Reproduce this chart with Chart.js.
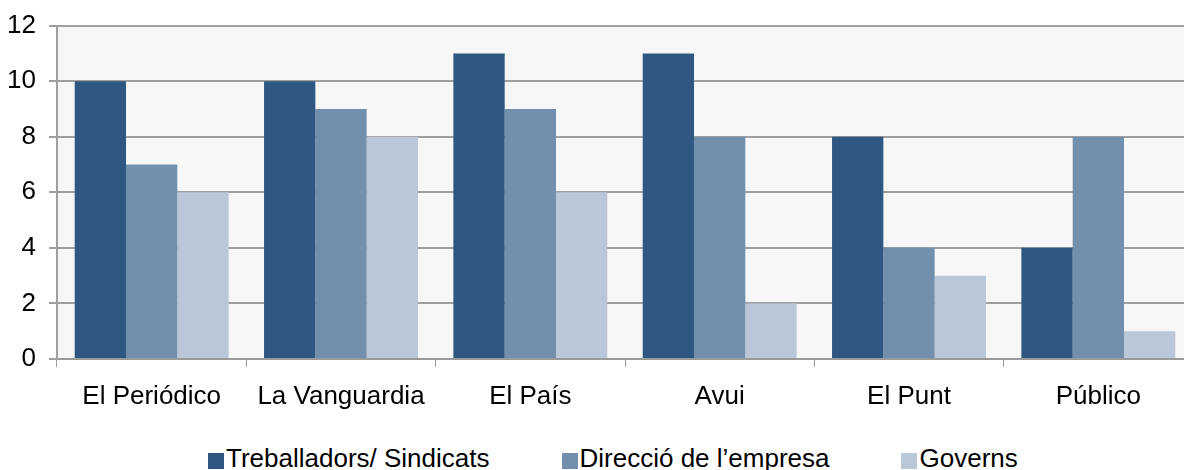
<!DOCTYPE html>
<html>
<head>
<meta charset="utf-8">
<script src="https://cdn.jsdelivr.net/npm/chart.js@4"></script>
<style>
  body { margin: 0; background: #fff; font-family: "Liberation Sans", Arial, sans-serif; }
  #wrap { position: relative; width: 1184px; height: 470px; overflow: hidden; }
  #box { position: absolute; left: 0; top: -3px; width: 1193px; height: 428px; }
  #legend { position: absolute; left: 208px; top: 443px; display: flex; align-items: center; font-size: 26px; color: #000; white-space: nowrap; }
  .item { display: flex; align-items: center; margin-right: 72px; }
  .sw { width: 16px; height: 16px; margin-right: 2px; margin-top: 5px; }
</style>
</head>
<body>
<div id="wrap">
  <div id="box"><canvas id="grafik"></canvas></div>
  <div id="legend"></div>
</div>
<script>
const kategori = ["El Periódico", "La Vanguardia", "El País", "Avui", "El Punt", "Público"];
const namaSeri = ["Treballadors/ Sindicats", "Direcció de l\u2019empresa", "Governs"];
const treballadors = [10, 10, 11, 11, 8, 4];
const direccio = [7, 9, 9, 8, 4, 8];
const governs = [6, 8, 6, 2, 3, 1];
const warna = ["#2e5782", "#728fae", "#b9c7d9"];

// latar abu-abu area plot
const latarPlot = {
    id: "latarPlot",
    beforeDraw(chart) {
        const a = chart.chartArea;
        const c = chart.ctx;
        c.save();
        c.fillStyle = "#f7f7f7";
        c.fillRect(a.left, a.top, a.right - a.left, a.bottom - a.top);
        c.restore();
    }
};

const semuaData = [treballadors, direccio, governs];

new Chart(document.getElementById("grafik").getContext("2d"), {
    type: "bar",
    data: {
        labels: kategori,
        datasets: semuaData.map((d, i) => ({
            label: namaSeri[i],
            data: d,
            backgroundColor: warna[i],
            borderWidth: 0,
            barPercentage: 1.0,
            categoryPercentage: 0.813
        }))
    },
    options: {
        responsive: true,
        maintainAspectRatio: false,
        animation: false,
        layout: { padding: { top: 24, right: 0, left: 0, bottom: 0 } },
        plugins: {
            legend: { display: false },
            tooltip: { enabled: false }
        },
        scales: {
            x: {
                offset: true,
                grid: { display: true, drawOnChartArea: false, offset: true, color: "#9a9a9a", tickLength: 8, lineWidth: 1 },
                border: { display: true, color: "#9a9a9a", width: 2 },
                ticks: { color: "#000", font: { family: "Liberation Sans", size: 26 }, padding: 14, maxRotation: 0 },
                afterFit(s) { s.height = 66; }
            },
            y: {
                min: 0,
                max: 12,
                grid: { color: "#a0a0a0", lineWidth: 2, tickLength: 8 },
                border: { display: true, color: "#a0a0a0", width: 2 },
                ticks: { stepSize: 2, color: "#000", font: { family: "Liberation Sans", size: 26 }, padding: 13 },
                afterFit(s) { s.width = 57; }
            }
        }
    },
    plugins: [latarPlot]
});

// legenda HTML
const legenda = document.getElementById("legend");
namaSeri.forEach((n, i) => {
    const el = document.createElement("div");
    el.className = "item";
    el.innerHTML = '<span class="sw" style="background:' + warna[i] + '"></span><span>' + n + '</span>';
    legenda.appendChild(el);
});
</script>
</body>
</html>
